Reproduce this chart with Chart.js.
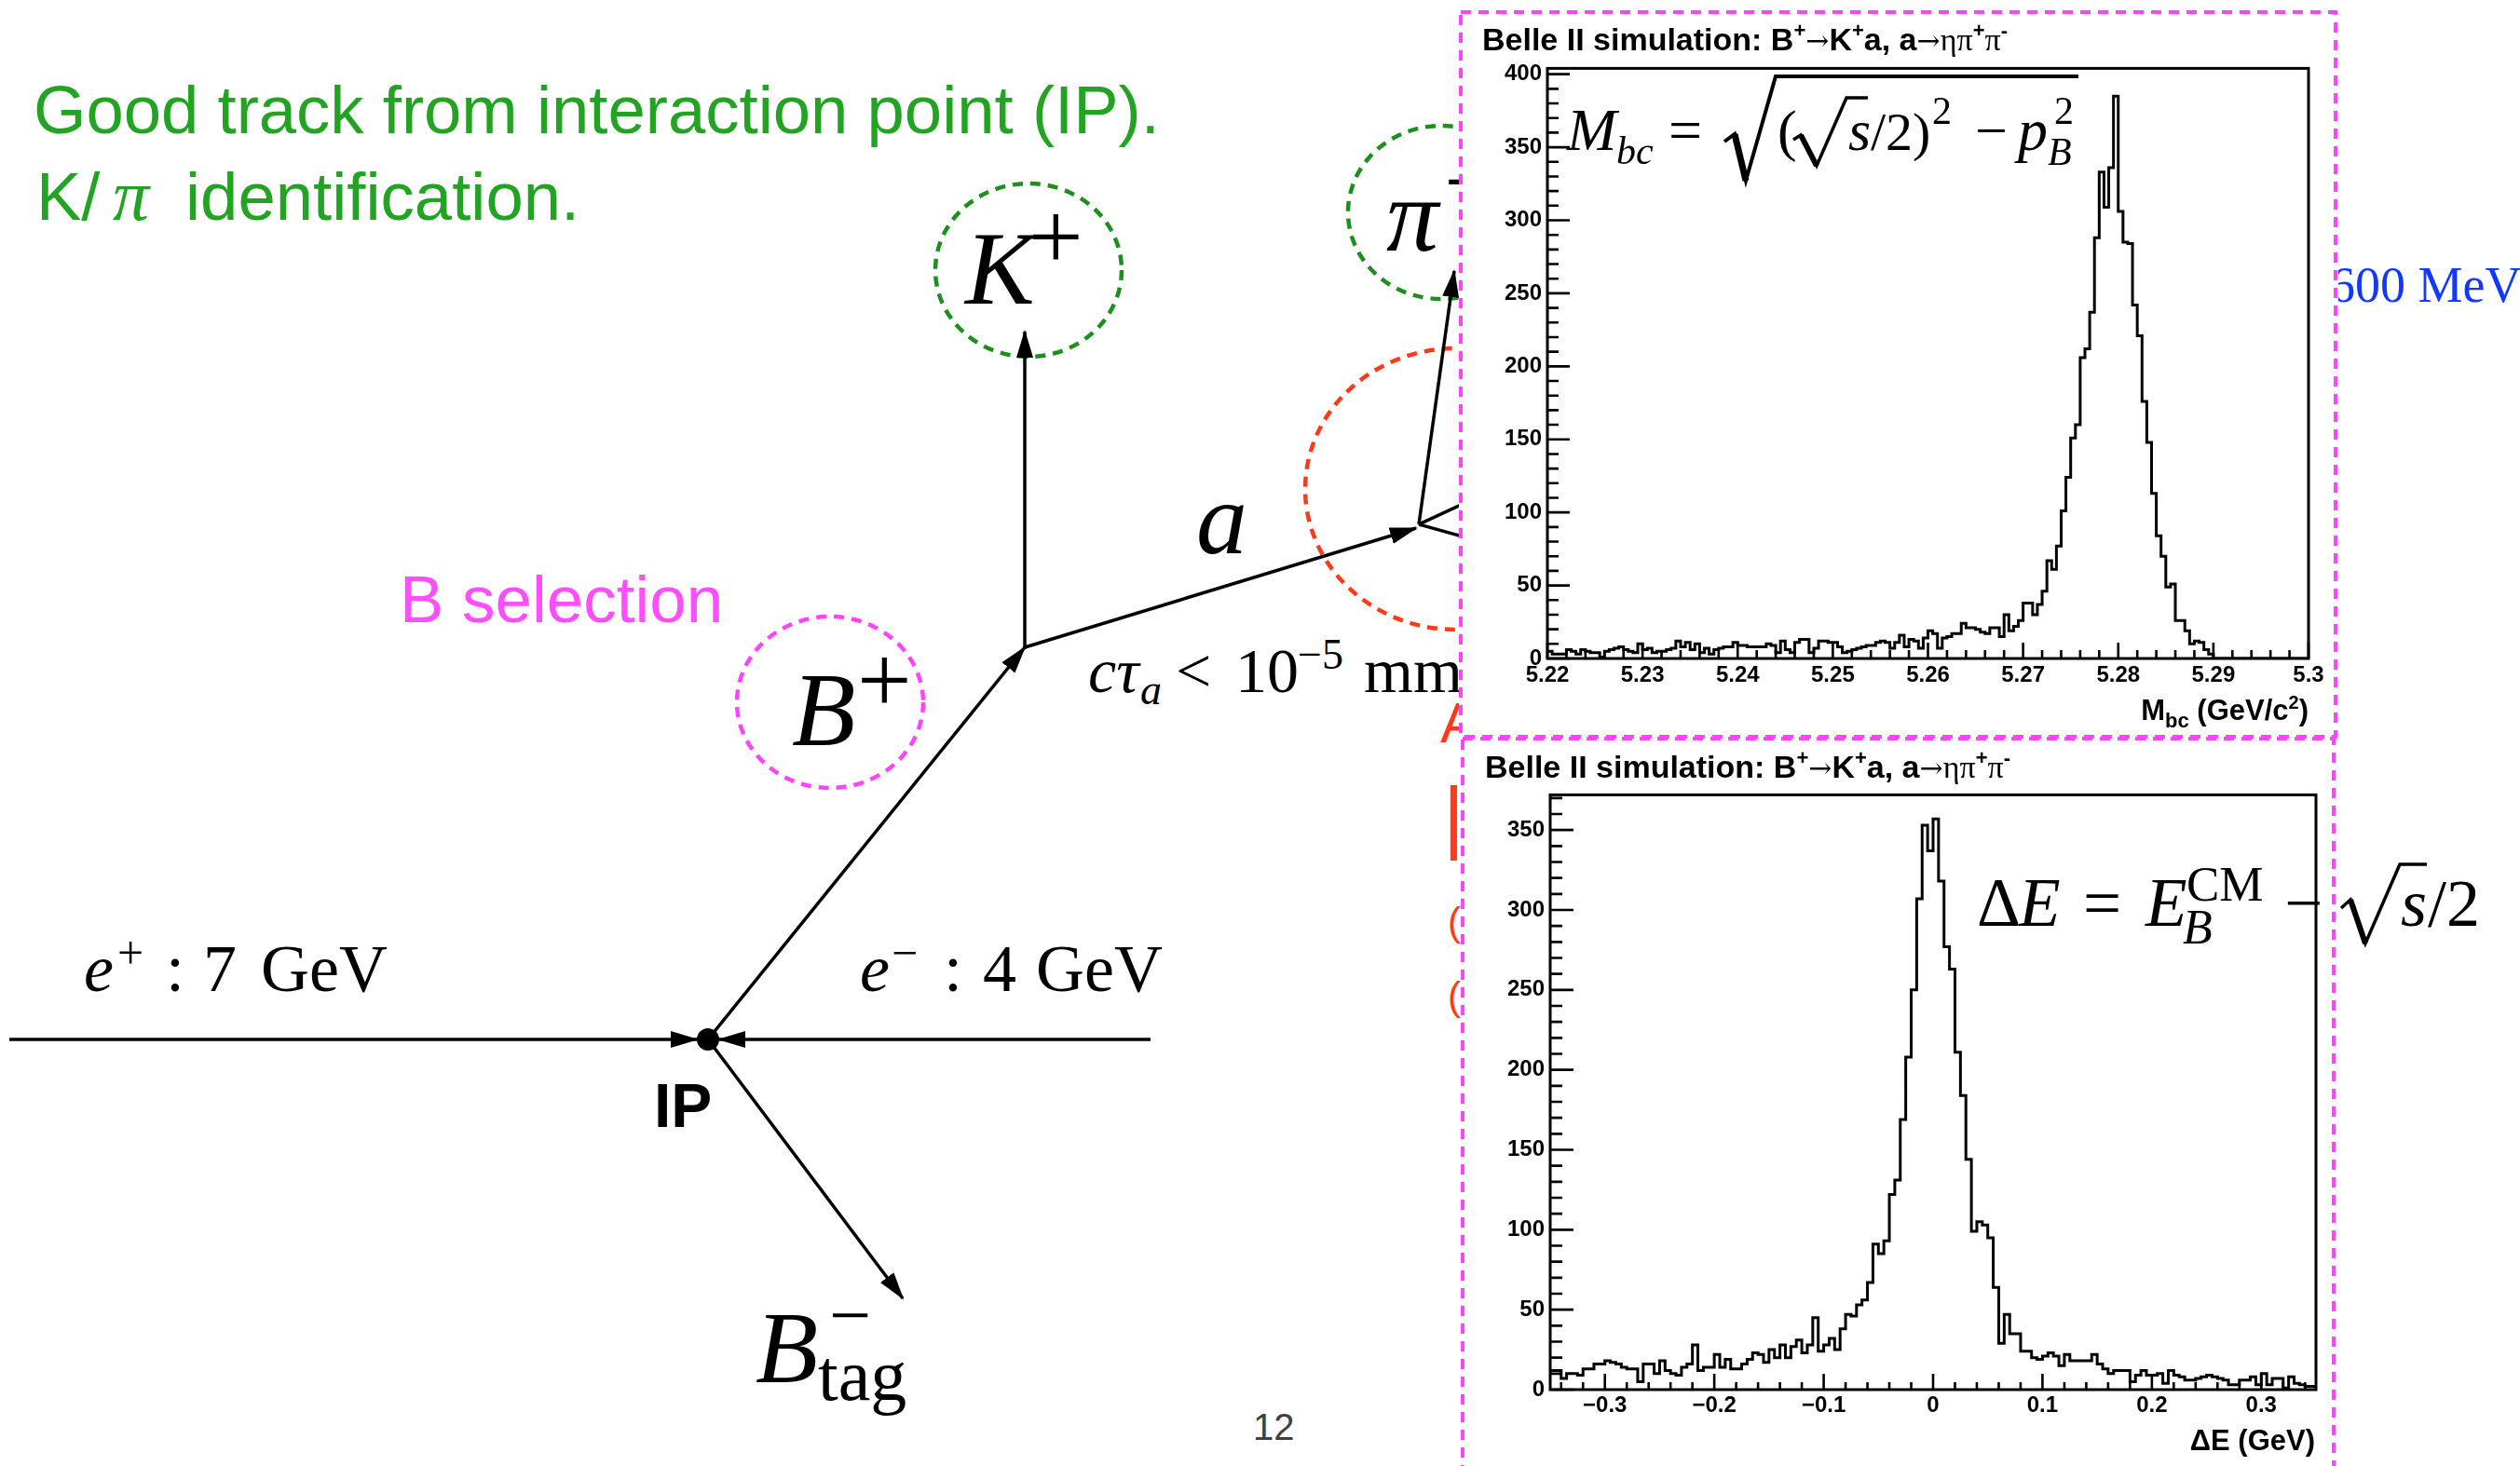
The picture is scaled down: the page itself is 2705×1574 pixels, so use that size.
<!DOCTYPE html>
<html><head><meta charset="utf-8">
<script src="https://cdn.jsdelivr.net/npm/chart.js@4.4.1/dist/chart.umd.min.js"></script>
<style>
html,body{margin:0;padding:0;background:#fff;}
body{width:2705px;height:1574px;position:relative;overflow:hidden;}
svg.layer{position:absolute;left:0;top:0;}
#diagram{z-index:0}
.wbox{position:absolute;background:#fff;z-index:1}
.cwrap{position:absolute;z-index:2}
#overlay{z-index:3;pointer-events:none}
</style></head>
<body>
<svg id="diagram" class="layer" width="2705" height="1574" xmlns="http://www.w3.org/2000/svg">
<defs>
<marker id="arr" viewBox="0 0 30 20" refX="28" refY="10" markerWidth="30" markerHeight="20" markerUnits="userSpaceOnUse" orient="auto"><path d="M0,1 L30,10 L0,19 z" fill="#000"/></marker>
</defs>
<g font-family="Liberation Sans" font-size="72.5" fill="#22a322">
<text x="36" y="143">Good track from interaction point (IP).</text>
<text x="39" y="236">K/</text>
<text x="121" y="236" font-family="Liberation Serif" font-style="italic" font-size="78">π</text>
<text x="199" y="236">identification.</text>
</g>
<text x="429" y="668" font-family="Liberation Sans" font-size="71" fill="#ff4dff">B selection</text>
<!-- hidden slide text under the plots -->
<text x="2501" y="324" font-family="Liberation Serif" font-size="54" fill="#1238ff">600 MeV</text>
<g font-family="Liberation Sans" fill="#ff3a1a">
<text x="1546" y="797" font-size="61">A</text>
<text x="1549" y="906" font-size="88">|</text>
<text x="1554" y="1004" font-size="42">(</text>
<text x="1554" y="1084" font-size="42">(</text>
</g>
<!-- dashed circles -->
<g fill="none" stroke-width="4.5" stroke-dasharray="11 8">
<ellipse cx="1104" cy="290" rx="100" ry="93" stroke="#1d8f1d"/>
<ellipse cx="1547" cy="228" rx="100" ry="93" stroke="#1d8f1d"/>
<ellipse cx="891" cy="754" rx="100" ry="92" stroke="#ff44ff"/>
<ellipse cx="1563" cy="525" rx="162" ry="151" stroke="#ff3a1a"/>
</g>
<!-- tracks -->
<g stroke="#000" stroke-width="3.5" fill="none">
<line x1="10" y1="1116" x2="748" y2="1116" marker-end="url(#arr)"/>
<line x1="1235" y1="1116" x2="772" y2="1116" marker-end="url(#arr)"/>
<line x1="760" y1="1116" x2="1100" y2="695" marker-end="url(#arr)"/>
<line x1="1100" y1="697" x2="1100" y2="356" marker-end="url(#arr)"/>
<line x1="1100" y1="695" x2="1520" y2="567" marker-end="url(#arr)"/>
<line x1="1523" y1="563" x2="1561" y2="291" marker-end="url(#arr)"/>
<line x1="1523" y1="563" x2="1620" y2="518"/>
<line x1="1523" y1="563" x2="1620" y2="590"/>
<line x1="760" y1="1116" x2="969" y2="1394" marker-end="url(#arr)"/>
</g>
<circle cx="760" cy="1116" r="12" fill="#000"/>
<g font-family="Liberation Serif" fill="#000">
<text x="1036" y="326" font-size="112" font-style="italic">K</text>
<text x="1104" y="289" font-size="104">+</text>
<text x="850" y="800" font-size="112" font-style="italic">B</text>
<text x="920" y="765" font-size="104">+</text>
<text x="1488" y="269" font-size="112" font-style="italic">π</text>
<text x="1550" y="230" font-size="104">+</text>
<text x="1284" y="594" font-size="110" font-style="italic">a</text>
<text x="1168" y="743" font-size="68" font-style="italic">cτ</text>
<text x="1224" y="756" font-size="46" font-style="italic">a</text>
<text x="1262" y="743" font-size="68">&lt;</text>
<text x="1326" y="743" font-size="68">10</text>
<text x="1393" y="718" font-size="46">−5</text>
<text x="1464" y="743" font-size="68">mm</text>
<text x="90" y="1064" font-size="72" font-style="italic">e</text>
<text x="126" y="1040" font-size="50">+</text>
<text x="178" y="1064" font-size="72">:</text>
<text x="218" y="1064" font-size="72">7</text>
<text x="280" y="1064" font-size="72">GeV</text>
<text x="923" y="1064" font-size="72" font-style="italic">e</text>
<text x="957" y="1040" font-size="50">−</text>
<text x="1013" y="1064" font-size="72">:</text>
<text x="1055" y="1064" font-size="72">4</text>
<text x="1112" y="1064" font-size="72">GeV</text>
<text x="811" y="1484" font-size="110" font-style="italic">B</text>
<text x="890" y="1439" font-size="80">−</text>
<text x="878" y="1503" font-size="78">tag</text>
</g>
<text x="702" y="1210" font-family="Liberation Sans" font-weight="bold" font-size="66" fill="#000">IP</text>
<text x="1345" y="1546" font-family="Liberation Sans" font-size="40" fill="#404040">12</text>
</svg>

<div class="wbox" style="left:1566px;top:11px;width:944px;height:782px"></div>
<div class="wbox" style="left:1568px;top:791px;width:940px;height:800px"></div>
<div class="cwrap" style="left:1580px;top:53px;width:920px;height:717px"><canvas id="mbc" width="920" height="717" style="width:920px;height:717px"></canvas></div>
<div class="cwrap" style="left:1580px;top:833px;width:920px;height:737px"><canvas id="de" width="920" height="737" style="width:920px;height:737px"></canvas></div>

<svg id="overlay" class="layer" width="2705" height="1574" xmlns="http://www.w3.org/2000/svg">
<g fill="none" stroke="#ff44ff" stroke-width="4" stroke-dasharray="11 8">
<rect x="1568" y="13" width="939" height="778"/>
<rect x="1570" y="793" width="935" height="800"/>
</g>
<!-- plot titles -->
<text x="1591" y="54" font-family="Liberation Sans" font-weight="bold" font-size="34" fill="#000">Belle II simulation: B<tspan font-size="22" dy="-14">+</tspan><tspan font-family="DejaVu Serif" font-weight="normal" font-size="30" dy="14">→</tspan>K<tspan font-size="22" dy="-14">+</tspan><tspan dy="14">a, a</tspan><tspan font-family="DejaVu Serif" font-weight="normal" font-size="30">→</tspan><tspan font-family="Liberation Serif" font-weight="normal">ηπ</tspan><tspan font-size="22" dy="-14">+</tspan><tspan font-family="Liberation Serif" font-weight="normal" dy="14">π</tspan><tspan font-size="22" dy="-14">-</tspan></text>
<text x="1594" y="835" font-family="Liberation Sans" font-weight="bold" font-size="34" fill="#000">Belle II simulation: B<tspan font-size="22" dy="-14">+</tspan><tspan font-family="DejaVu Serif" font-weight="normal" font-size="30" dy="14">→</tspan>K<tspan font-size="22" dy="-14">+</tspan><tspan dy="14">a, a</tspan><tspan font-family="DejaVu Serif" font-weight="normal" font-size="30">→</tspan><tspan font-family="Liberation Serif" font-weight="normal">ηπ</tspan><tspan font-size="22" dy="-14">+</tspan><tspan font-family="Liberation Serif" font-weight="normal" dy="14">π</tspan><tspan font-size="22" dy="-14">-</tspan></text>
<!-- axis titles -->
<text x="2478" y="773" text-anchor="end" font-family="Liberation Sans" font-weight="bold" font-size="31" fill="#000">M<tspan font-size="22" dy="8">bc</tspan><tspan dy="-8"> (GeV/c</tspan><tspan font-size="20" dy="-12">2</tspan><tspan dy="12">)</tspan></text>
<text x="2485" y="1557" text-anchor="end" font-family="Liberation Sans" font-weight="bold" font-size="31" fill="#000">ΔE (GeV)</text>
<!-- formulas -->
<g font-family="Liberation Serif" fill="#000">
<text x="1682" y="161" font-size="64" font-style="italic">M</text>
<text x="1735" y="176" font-size="42" font-style="italic">bc</text>
<text x="1791" y="161" font-size="64">=</text>
<text x="1908" y="161" font-size="62">(</text>
<text x="1984" y="161" font-size="62" font-style="italic">s</text>
<text x="2008" y="161" font-size="58">/2)</text>
<text x="2074" y="133" font-size="42">2</text>
<text x="2120" y="161" font-size="62">−</text>
<text x="2166" y="161" font-size="64" font-style="italic">p</text>
<text x="2205" y="133" font-size="42">2</text>
<text x="2198" y="177" font-size="42" font-style="italic">B</text>
<text x="2122" y="994" font-size="73">Δ</text>
<text x="2167" y="994" font-size="73" font-style="italic">E</text>
<text x="2236" y="994" font-size="73">=</text>
<text x="2303" y="994" font-size="73" font-style="italic">E</text>
<text x="2347" y="967" font-size="53">CM</text>
<text x="2343" y="1013" font-size="52" font-style="italic">B</text>
<text x="2452" y="994" font-size="73">−</text>
<text x="2577" y="994" font-size="72" font-style="italic">s</text>
<text x="2606" y="994" font-size="72">/2</text>
</g>
<g fill="none" stroke="#000" stroke-linejoin="miter">
<path d="M1851,152 L1862,144 L1874,194 L1906,82 L2231,82" stroke-width="4"/>
<path d="M1862,144 L1874,194" stroke-width="7"/>
<path d="M1925,150 L1933,145 L1950,178 L1982,105 L2005,105" stroke-width="3.5"/>
<path d="M1933,145 L1950,178" stroke-width="6"/>
<path d="M2513,975 L2523,966 L2539,1013 L2576,928 L2605,928" stroke-width="3.5"/>
<path d="M2523,966 L2539,1013" stroke-width="6"/>
</g>
</svg>

<script>
// ---------------- data ----------------
const mbcRange = [5.22, 5.30];
const mbcCounts = [
  5, 3, 3, 3, 6, 5, 3, 6, 5, 4,
  4, 1, 5, 6, 7, 8, 6, 5, 4, 10,
  6, 7, 4, 5, 5, 6, 7, 12, 8, 11,
  6, 10, 4, 7, 3, 6, 7, 8, 8, 11,
  9, 9, 8, 8, 8, 8, 10, 9, 4, 12,
  6, 4, 11, 13, 13, 4, 7, 12, 12, 11,
  11, 8, 4, 5, 6, 7, 8, 9, 9, 11,
  12, 11, 7, 11, 16, 8, 13, 12, 7, 14,
  19, 17, 7, 14, 15, 17, 17, 24, 21, 21,
  20, 18, 17, 21, 21, 15, 30, 19, 22, 26,
  38, 38, 30, 37, 46, 67, 61, 77, 101, 124,
  151, 160, 206, 212, 237, 288, 333, 309, 336, 385,
  306, 285, 284, 242, 221, 176, 148, 113, 84, 70,
  49, 51, 26, 26, 19, 10, 12, 11, 6, 3,
  0, 0, 0, 0, 0, 0, 0, 0, 0, 0,
  0, 0, 0, 0, 0, 0, 0, 0, 0, 0
];
const mbcXTicks = [5.22, 5.23, 5.24, 5.25, 5.26, 5.27, 5.28, 5.29, 5.30];
const mbcXTickLabels = ['5.22', '5.23', '5.24', '5.25', '5.26', '5.27', '5.28', '5.29', '5.3'];
const mbcYTicks = [0, 50, 100, 150, 200, 250, 300, 350, 400];
const mbcYTickLabels = ['0', '50', '100', '150', '200', '250', '300', '350', '400'];

const deRange = [-0.35, 0.35];
const deCounts = [
  12, 12, 7, 10, 10, 9, 13, 13, 16, 16,
  18, 17, 16, 14, 13, 13, 5, 16, 16, 10,
  18, 12, 10, 9, 14, 16, 28, 12, 14, 14,
  22, 14, 19, 13, 13, 16, 19, 23, 22, 17,
  25, 20, 28, 20, 27, 31, 23, 28, 45, 24,
  28, 32, 25, 38, 47, 46, 53, 56, 67, 91,
  85, 93, 122, 131, 169, 208, 250, 307, 353, 337,
  357, 318, 277, 263, 211, 184, 144, 99, 105, 103,
  95, 64, 29, 47, 35, 35, 24, 24, 20, 19,
  21, 23, 21, 15, 22, 18, 18, 18, 18, 22,
  16, 13, 10, 12, 12, 12, 5, 9, 12, 9,
  9, 10, 4, 12, 9, 8, 6, 6, 7, 8,
  9, 8, 7, 6, 3, 3, 6, 6, 8, 3,
  10, 3, 7, 7, 1, 8, 4, 3, 2, 2
];
const deXTicks = [-0.3, -0.2, -0.1, 0, 0.1, 0.2, 0.3];
const deXTickLabels = ['\u22120.3', '\u22120.2', '\u22120.1', '0', '0.1', '0.2', '0.3'];
const deYTicks = [0, 50, 100, 150, 200, 250, 300, 350];
const deYTickLabels = ['0', '50', '100', '150', '200', '250', '300', '350'];

// --------------- helpers ---------------
function histPoints(range, counts) {
  const w = (range[1] - range[0]) / counts.length;
  const pts = counts.map((c, i) => ({ x: range[0] + i * w, y: c }));
  pts.push({ x: range[1], y: counts[counts.length - 1] });
  return pts;
}

const rootAxes = {
  id: 'rootAxes',
  afterDatasetsDraw(chart, args, o) {
    const { ctx, chartArea: a } = chart;
    const xs = chart.scales.x, ys = chart.scales.y;
    ctx.save();
    ctx.strokeStyle = '#000';
    ctx.lineWidth = 3;
    ctx.strokeRect(a.left, a.top, a.right - a.left, a.bottom - a.top);
    ctx.lineWidth = 2.6;
    ctx.beginPath();
    for (let k = o.xk[0]; k <= o.xk[1]; k++) {
      const px = xs.getPixelForValue(k * o.xMinor);
      if (px < a.left - 0.5 || px > a.right + 0.5) continue;
      const len = (((k % o.xSub) + o.xSub) % o.xSub === 0) ? o.xMajLen : o.xMinLen;
      ctx.moveTo(px, a.bottom);
      ctx.lineTo(px, a.bottom - len);
    }
    for (let k = o.yk[0]; k <= o.yk[1]; k++) {
      const py = ys.getPixelForValue(k * o.yMinor);
      if (py < a.top) continue;
      const len = (k % o.ySub === 0) ? o.yMajLen : o.yMinLen;
      ctx.moveTo(a.left, py);
      ctx.lineTo(a.left + len, py);
    }
    ctx.stroke();
    ctx.restore();
  }
};

Chart.defaults.font.family = 'Liberation Sans';
Chart.defaults.color = '#000';

function makeHist(id, range, counts, yMax, xTicks, xLabels, yTicks, yLabels, geo, tickOpts) {
  return new Chart(document.getElementById(id), {
    type: 'line',
    data: {
      datasets: [{
        data: histPoints(range, counts),
        stepped: 'before',
        borderColor: '#000',
        borderWidth: 3,
        pointRadius: 0,
        fill: false,
        tension: 0
      }]
    },
    options: {
      responsive: false,
      animation: false,
      events: [],
      layout: { padding: { top: geo.padTop, right: geo.padRight, left: 0, bottom: 0 } },
      plugins: { legend: { display: false }, tooltip: { enabled: false }, title: { display: false }, rootAxes: tickOpts },
      scales: {
        x: {
          type: 'linear', min: range[0], max: range[1],
          grid: { display: false, drawTicks: false },
          border: { display: false },
          afterBuildTicks: s => { s.ticks = xTicks.map(v => ({ value: v })); },
          afterFit: s => { s.height = geo.xAxisH; },
          ticks: {
            autoSkip: false, maxRotation: 0, padding: geo.xPad,
            font: { size: 24, weight: 'bold' }, color: '#000',
            callback: (v, i) => xLabels[i]
          }
        },
        y: {
          type: 'linear', min: 0, max: yMax,
          grid: { display: false, drawTicks: false },
          border: { display: false },
          afterBuildTicks: s => { s.ticks = yTicks.map(v => ({ value: v })); },
          afterFit: s => { s.width = geo.yAxisW; },
          ticks: {
            autoSkip: false, padding: 6,
            font: { size: 24, weight: 'bold' }, color: '#000',
            callback: (v, i) => yLabels[i]
          }
        }
      }
    },
    plugins: [rootAxes]
  });
}

makeHist('mbc', mbcRange, mbcCounts, 404, mbcXTicks, mbcXTickLabels, mbcYTicks, mbcYTickLabels,
  { padTop: 20, padRight: 22, xAxisH: 63, yAxisW: 81, xPad: 4 },
  { xMinor: 0.002, xk: [2610, 2650], xSub: 5, xMajLen: 17, xMinLen: 9,
    yMinor: 10, yk: [0, 40], ySub: 5, yMajLen: 24, yMinLen: 12 });

makeHist('de', deRange, deCounts, 372, deXTicks, deXTickLabels, deYTicks, deYTickLabels,
  { padTop: 20, padRight: 14, xAxisH: 78, yAxisW: 84, xPad: 3 },
  { xMinor: 0.02, xk: [-17, 17], xSub: 5, xMajLen: 17, xMinLen: 8,
    yMinor: 10, yk: [0, 37], ySub: 5, yMajLen: 25, yMinLen: 13 });
</script>
</body></html>
